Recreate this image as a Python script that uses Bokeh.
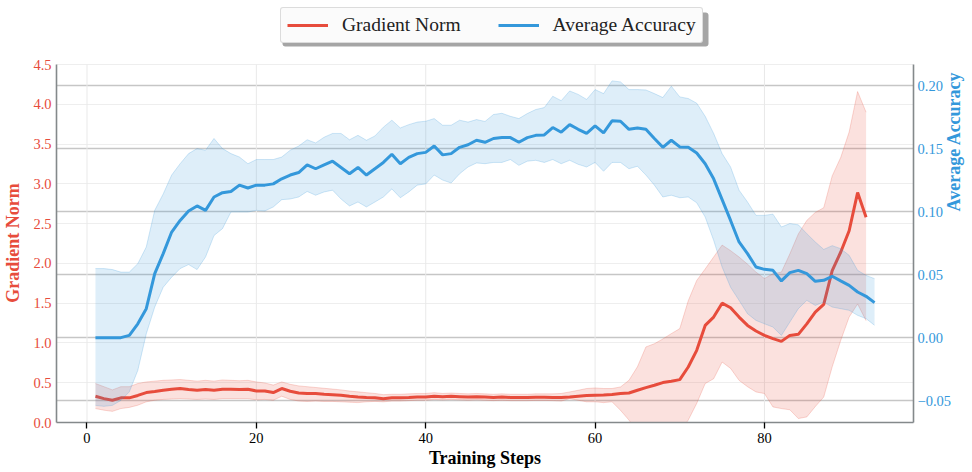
import math
from bokeh.plotting import figure
from bokeh.models import (ColumnDataSource, Range1d, LinearAxis, FixedTicker, Grid,
                          Legend, LegendItem, CustomJSTickFormatter, BoxAnnotation)
from bokeh.embed import file_html
from bokeh.resources import INLINE

# ---------------- data ----------------
grad_steps = list(range(1, 93))
grad_mean = [0.33, 0.30, 0.28, 0.31, 0.31, 0.34, 0.376, 0.39, 0.405, 0.418,
             0.427, 0.414, 0.405, 0.414, 0.405, 0.418, 0.418, 0.414, 0.418, 0.397,
             0.397, 0.376, 0.427, 0.393, 0.371, 0.364, 0.364, 0.355, 0.35, 0.343,
             0.33, 0.32, 0.314, 0.31, 0.30, 0.31, 0.31, 0.314, 0.32, 0.32,
             0.33, 0.325, 0.33, 0.325, 0.32, 0.325, 0.32, 0.315, 0.32, 0.315,
             0.315, 0.315, 0.318, 0.318, 0.315, 0.315, 0.32, 0.33, 0.34, 0.343,
             0.345, 0.351, 0.364, 0.371, 0.405, 0.439, 0.468, 0.502, 0.518, 0.539,
             0.698, 0.907, 1.22, 1.325, 1.50, 1.443, 1.325, 1.22, 1.15, 1.095,
             1.054, 1.02, 1.095, 1.108, 1.24, 1.388, 1.484, 1.91, 2.14, 2.41,
             2.89, 2.58]
grad_upper = [0.49, 0.45, 0.41, 0.45, 0.45, 0.49, 0.51, 0.52, 0.53, 0.535,
              0.54, 0.53, 0.52, 0.53, 0.52, 0.535, 0.53, 0.525, 0.53, 0.51,
              0.497, 0.47, 0.51, 0.48, 0.46, 0.45, 0.44, 0.43, 0.42, 0.41,
              0.395, 0.385, 0.375, 0.365, 0.35, 0.355, 0.355, 0.36, 0.365, 0.365,
              0.375, 0.365, 0.37, 0.365, 0.36, 0.365, 0.36, 0.355, 0.36, 0.355,
              0.355, 0.355, 0.36, 0.36, 0.36, 0.365, 0.384, 0.405, 0.427, 0.434,
              0.427, 0.427, 0.447, 0.53, 0.70, 0.95, 0.99, 1.05, 1.117, 1.18,
              1.53, 1.785, 1.93, 2.08, 2.23, 2.16, 2.08, 1.99, 1.89, 1.81,
              1.87, 1.89, 2.12, 2.37, 2.54, 2.64, 2.70, 3.10, 3.33, 3.65,
              4.16, 3.90]
grad_lower = [0.175, 0.155, 0.14, 0.175, 0.19, 0.217, 0.26, 0.28, 0.29, 0.295,
              0.30, 0.295, 0.29, 0.295, 0.29, 0.30, 0.30, 0.30, 0.30, 0.285,
              0.29, 0.28, 0.33, 0.29, 0.27, 0.265, 0.27, 0.265, 0.265, 0.26,
              0.255, 0.25, 0.26, 0.265, 0.26, 0.27, 0.27, 0.275, 0.28, 0.28,
              0.29, 0.285, 0.29, 0.285, 0.28, 0.285, 0.28, 0.275, 0.28, 0.275,
              0.275, 0.275, 0.278, 0.278, 0.275, 0.27, 0.30, 0.28, 0.26, 0.26,
              0.25, 0.26, 0.154, 0.03, -0.12, -0.2, -0.25, -0.25, -0.2, -0.12,
              0.03, 0.24, 0.49, 0.55, 0.76, 0.68, 0.53, 0.45, 0.384, 0.364,
              0.196, 0.175, 0.16, 0.05, 0.07, 0.2, 0.32, 0.70, 1.03, 1.325,
              1.49, 1.28]

acc_steps = list(range(1, 94))
acc_mean = [0.0, 0.0, 0.0, 0.0, 0.0018, 0.011, 0.023, 0.0508, 0.0667, 0.0838,
            0.093, 0.1005, 0.1045, 0.101, 0.1116, 0.115, 0.116, 0.121, 0.1187, 0.121,
            0.121, 0.122, 0.126, 0.129, 0.131, 0.137, 0.134, 0.137, 0.140, 0.135,
            0.130, 0.135, 0.129, 0.134, 0.139, 0.1455, 0.138, 0.143, 0.146, 0.147,
            0.152, 0.145, 0.146, 0.151, 0.153, 0.1566, 0.155, 0.158, 0.1587, 0.1587,
            0.155, 0.1587, 0.1605, 0.1608, 0.1667, 0.163, 0.169, 0.1653, 0.162, 0.168,
            0.1624, 0.172, 0.1717, 0.1653, 0.1664, 0.1653, 0.158, 0.151, 0.1566, 0.1513,
            0.151, 0.1465, 0.138, 0.126, 0.1095, 0.093, 0.0759, 0.0667, 0.056, 0.0542,
            0.0534, 0.045, 0.0516, 0.0534, 0.0508, 0.0447, 0.0455, 0.0487, 0.045, 0.0415,
            0.0362, 0.0328, 0.0278]
acc_upper = [0.0548, 0.0548, 0.054, 0.052, 0.052, 0.0587, 0.0719, 0.101, 0.114, 0.129,
             0.138, 0.146, 0.150, 0.1487, 0.158, 0.150, 0.146, 0.1433, 0.138, 0.1413,
             0.1413, 0.1413, 0.1433, 0.1487, 0.152, 0.157, 0.1545, 0.159, 0.162, 0.162,
             0.157, 0.1605, 0.1566, 0.160, 0.167, 0.1725, 0.1664, 0.169, 0.171, 0.1717,
             0.1738, 0.1685, 0.1685, 0.1725, 0.171, 0.173, 0.1715, 0.177, 0.178, 0.1756,
             0.1738, 0.1778, 0.181, 0.1825, 0.1915, 0.188, 0.1957, 0.193, 0.189, 0.1968,
             0.1936, 0.2037, 0.2029, 0.1968, 0.1968, 0.1965, 0.1936, 0.1905, 0.1995, 0.191,
             0.1897, 0.186, 0.1756, 0.162, 0.146, 0.1354, 0.117, 0.1076, 0.097, 0.097,
             0.098, 0.0878, 0.0905, 0.0895, 0.0825, 0.0759, 0.070, 0.073, 0.0706, 0.0653,
             0.0534, 0.0494, 0.0468]
acc_lower = [-0.0537, -0.0545, -0.0537, -0.0498, -0.043, -0.026, 0.003, 0.0243, 0.040, 0.048,
             0.0548, 0.058, 0.054, 0.064, 0.081, 0.0865, 0.0997, 0.0997, 0.0997, 0.101,
             0.1005, 0.1037, 0.1095, 0.110, 0.1116, 0.116, 0.113, 0.1156, 0.117, 0.110,
             0.1045, 0.1076, 0.1037, 0.1076, 0.1116, 0.118, 0.111, 0.1156, 0.121, 0.122,
             0.129, 0.125, 0.1227, 0.130, 0.1354, 0.1386, 0.138, 0.139, 0.139, 0.1413,
             0.1367, 0.140, 0.1407, 0.139, 0.1413, 0.138, 0.1407, 0.1375, 0.1354, 0.139,
             0.132, 0.139, 0.139, 0.134, 0.136, 0.129, 0.121, 0.1116, 0.113, 0.111,
             0.1116, 0.107, 0.0957, 0.0772, 0.056, 0.040, 0.0296, 0.019, 0.0137, 0.011,
             0.0084, 0.0018, 0.0124, 0.023, 0.0296, 0.0256, 0.0282, 0.0243, 0.023, 0.0217,
             0.0177, 0.0151, 0.0098]

x_ticks = [0, 20, 40, 60, 80]
left_ticks = [0.0, 0.5, 1.0, 1.5, 2.0, 2.5, 3.0, 3.5, 4.0, 4.5]
right_ticks = [-0.05, 0.0, 0.05, 0.10, 0.15, 0.20]

RED = "#e74c3c"
BLUE = "#3498db"
SPINE = "#84898b"
FONT = "Liberation Serif"

# visible extent of each axis; the frame reaches up to the top of the canvas
LEFT_LIM = (0.0, 4.5)
RIGHT_LIM = (-0.0673, 0.2167)
FW, FH = 857, 422          # frame size (plot area 358 px high + 64 px for the legend)
PLOT_H = 358
left_top = LEFT_LIM[0] + (LEFT_LIM[1] - LEFT_LIM[0]) * FH / PLOT_H
right_top = RIGHT_LIM[0] + (RIGHT_LIM[1] - RIGHT_LIM[0]) * FH / PLOT_H

# axis titles are centred on the whole frame; trailing no-break spaces move the
# visible words down to the centre of the plotted area
PAD = "\u00a0" * 14

gsrc = ColumnDataSource(dict(x=grad_steps, m=grad_mean, lo=grad_lower, hi=grad_upper))
asrc = ColumnDataSource(dict(x=acc_steps, m=acc_mean, lo=acc_lower, hi=acc_upper))

p = figure(frame_width=FW, frame_height=FH, output_backend="svg", toolbar_location=None,
           x_range=Range1d(-3.6, 97.6), y_range=Range1d(LEFT_LIM[0], left_top),
           min_border_left=55, min_border_top=0, min_border_right=0, min_border_bottom=0,
           background_fill_color="white", border_fill_color="white")
p.outline_line_color = None
p.extra_y_ranges = {"acc": Range1d(RIGHT_LIM[0], right_top)}

# grids
p.xgrid.visible = False
p.segment(x0=x_ticks, y0=[LEFT_LIM[0]] * len(x_ticks), x1=x_ticks, y1=[LEFT_LIM[1]] * len(x_ticks),
          line_color="#e9e9e9", line_width=1)
p.ygrid.ticker = FixedTicker(ticks=left_ticks)
p.ygrid.grid_line_color = "#eeeeee"
p.ygrid.grid_line_width = 1
rgrid = Grid(dimension=1, ticker=FixedTicker(ticks=right_ticks), y_range_name="acc",
             grid_line_color="#c6c6c6", grid_line_width=1.3)
p.add_layout(rgrid)

# gradient norm (left axis)
p.varea(x="x", y1="lo", y2="hi", source=gsrc, fill_color=RED, fill_alpha=0.17)
p.line(x="x", y="hi", source=gsrc, line_color=RED, line_alpha=0.22, line_width=1)
p.line(x="x", y="lo", source=gsrc, line_color=RED, line_alpha=0.22, line_width=1)
r_grad = p.line(x="x", y="m", source=gsrc, line_color=RED, line_width=3)

# accuracy (right axis)
p.varea(x="x", y1="lo", y2="hi", source=asrc, fill_color=BLUE, fill_alpha=0.16, y_range_name="acc")
p.line(x="x", y="hi", source=asrc, line_color=BLUE, line_alpha=0.22, line_width=1, y_range_name="acc")
p.line(x="x", y="lo", source=asrc, line_color=BLUE, line_alpha=0.22, line_width=1, y_range_name="acc")
r_acc = p.line(x="x", y="m", source=asrc, line_color=BLUE, line_width=3, y_range_name="acc")

# axes
xa = p.xaxis[0]
xa.ticker = FixedTicker(ticks=x_ticks)
xa.axis_label = "Training Steps"
xa.axis_label_text_font = FONT
xa.axis_label_text_font_style = "bold"
xa.axis_label_text_font_size = "18px"
xa.axis_label_text_color = "black"
xa.axis_label_standoff = 2
xa.major_label_text_font = FONT
xa.major_label_text_font_size = "14.5px"
xa.major_label_text_color = "black"
xa.major_label_standoff = 4
xa.axis_line_color = SPINE
xa.axis_line_width = 1.6
xa.major_tick_line_color = "black"
xa.major_tick_line_width = 1.3
xa.major_tick_in = 0
xa.major_tick_out = 6
xa.minor_tick_line_color = None

ya = p.yaxis[0]
ya.bounds = LEFT_LIM
ya.ticker = FixedTicker(ticks=left_ticks)
ya.formatter = CustomJSTickFormatter(code="return tick.toFixed(1);")
ya.axis_label = "Gradient Norm" + PAD
ya.axis_label_text_font = FONT
ya.axis_label_text_font_style = "bold"
ya.axis_label_text_font_size = "18px"
ya.axis_label_text_color = RED
ya.axis_label_standoff = 7
ya.major_label_text_font = FONT
ya.major_label_text_font_size = "14.5px"
ya.major_label_text_color = RED
ya.major_label_standoff = 5
ya.axis_line_color = SPINE
ya.axis_line_width = 1.6
ya.major_tick_in = 0
ya.major_tick_out = 0
ya.major_tick_line_color = None
ya.minor_tick_line_color = None

ra = LinearAxis(y_range_name="acc", ticker=FixedTicker(ticks=right_ticks), bounds=RIGHT_LIM,
                formatter=CustomJSTickFormatter(
                    code="return (tick < -1e-9 ? '\u2212' : '') + Math.abs(tick).toFixed(2);"))
ra.axis_label = "Average Accuracy" + PAD
ra.axis_label_orientation = math.pi / 2
ra.axis_label_text_align = "center"
ra.axis_label_text_font = FONT
ra.axis_label_text_font_style = "bold"
ra.axis_label_text_font_size = "18px"
ra.axis_label_text_color = BLUE
ra.axis_label_standoff = 0
ra.major_label_text_font = FONT
ra.major_label_text_font_size = "14.5px"
ra.major_label_text_color = BLUE
ra.major_label_standoff = 4
ra.axis_line_color = SPINE
ra.axis_line_width = 1.6
ra.major_tick_in = 0
ra.major_tick_out = 0
ra.major_tick_line_color = None
ra.minor_tick_line_color = None
p.add_layout(ra, "right")

# legend shadow (canvas pixels) and legend inside the upper strip of the frame
shadow = BoxAnnotation(left=282, right=708, top=12, bottom=46,
                       left_units="canvas", right_units="canvas",
                       top_units="canvas", bottom_units="canvas",
                       fill_color="#8f8f8f", fill_alpha=0.8, line_color=None, border_radius=3)
p.add_layout(shadow)

legend = Legend(items=[LegendItem(label="Gradient Norm", renderers=[r_grad]),
                       LegendItem(label="Average Accuracy", renderers=[r_acc])],
                location=(224, FH - 43), orientation="horizontal",
                label_text_font=FONT, label_text_font_size="19.5px", label_text_color="#222222",
                glyph_width=41, glyph_height=18, label_height=18, label_standoff=14,
                spacing=37, padding=6, margin=0,
                background_fill_color="#fbfbfb", background_fill_alpha=1.0,
                border_line_color="#bdbdbd", border_line_width=1, border_radius=3)
p.add_layout(legend, "center")

open("out.html", "w").write(file_html(p, INLINE))
